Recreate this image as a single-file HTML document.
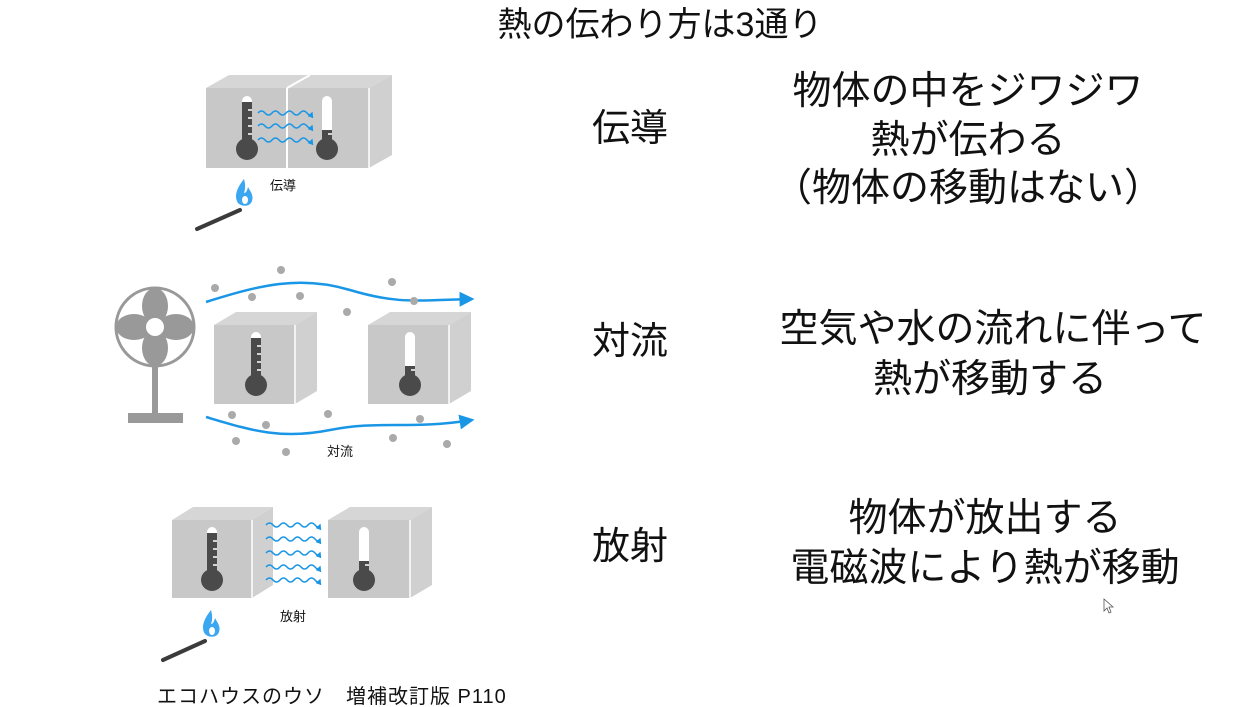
<!DOCTYPE html>
<html><head><meta charset="utf-8"><style>
html,body{margin:0;padding:0;background:#fff;}
svg{display:block;}
text{font-family:"Liberation Sans","Noto Sans CJK JP",sans-serif;fill:#111;}
</style></head><body>
<svg width="1256" height="707" viewBox="0 0 1256 707" xmlns="http://www.w3.org/2000/svg">
<defs>
<marker id="ah" markerWidth="6" markerHeight="6" refX="5" refY="3" orient="auto" markerUnits="strokeWidth"><path d="M0,0 L6,3 L0,6 z" fill="#1a96e6"/></marker>
<marker id="ah2" markerWidth="4" markerHeight="4" refX="3" refY="2" orient="auto" markerUnits="strokeWidth"><path d="M0,0 L4,2 L0,4 z" fill="#1a96e6"/></marker>
<g id="thH">
<rect x="-5" y="0" width="10" height="50" rx="5" fill="#fff"/>
<rect x="-5" y="6" width="10" height="46" fill="#4a4a4a"/>
<circle cx="0" cy="53" r="11" fill="#4a4a4a"/>
<path d="M1,14h4M1,22h4M1,30h4M1,38h4" stroke="#fff" stroke-width="1.5"/>
</g>
<g id="thC">
<rect x="-5" y="0" width="10" height="50" rx="5" fill="#fff"/>
<rect x="-5" y="34" width="10" height="18" fill="#4a4a4a"/>
<circle cx="0" cy="53" r="11" fill="#4a4a4a"/>
<path d="M1,38h4" stroke="#fff" stroke-width="1.5"/>
</g>
<path id="wv" d="M0,0 q3.5,-4 7,0 t7,0 t7,0 t7,0 t7,0 t7,0 t7,0 t5,0" fill="none" stroke="#1a96e6" stroke-width="1.5" marker-end="url(#ah2)"/>
<g id="flame">
<path d="M0,-18 C-8,-8 -10,0 -6,6 C-2,10 6,10 8,4 C10,-2 6,-6 4,-10 C3,-6 2,-4 0,-4 C2,-10 1,-14 0,-18z" fill="#3aa7f0"/>
<ellipse cx="1" cy="3" rx="3" ry="4" fill="#fff"/>
</g>
</defs>

<text x="660" y="36" font-size="34" text-anchor="middle">熱の伝わり方は3通り</text>

<!-- Conduction -->
<polygon points="206,88 369,88 392,75 229,75" fill="#d6d6d6"/>
<polygon points="369,88 392,75 392,155 369,168" fill="#d0d0d0"/>
<rect x="206" y="88" width="163" height="80" fill="#c8c8c8"/>
<line x1="287" y1="88" x2="287" y2="168" stroke="#fff" stroke-width="2"/>
<line x1="287" y1="88" x2="310" y2="75" stroke="#fff" stroke-width="2"/>
<line x1="369" y1="88" x2="369" y2="168" stroke="#fff" stroke-width="1.5"/>
<use href="#thH" x="247" y="96"/>
<use href="#thC" x="327" y="96"/>
<use href="#wv" x="258" y="113"/>
<use href="#wv" x="258" y="126"/>
<use href="#wv" x="258" y="140"/>
<line x1="197" y1="229" x2="240" y2="210" stroke="#3b3b3b" stroke-width="4" stroke-linecap="round"/>
<use href="#flame" x="244" y="197"/>
<text x="270" y="190" font-size="13">伝導</text>

<!-- Convection -->
<circle cx="155" cy="327" r="39" fill="none" stroke="#999" stroke-width="3"/>
<g fill="#999">
<ellipse cx="155" cy="306" rx="13" ry="18"/>
<ellipse cx="155" cy="348" rx="13" ry="18"/>
<ellipse cx="134" cy="327" rx="18" ry="13"/>
<ellipse cx="176" cy="327" rx="18" ry="13"/>
</g>
<circle cx="155" cy="327" r="9" fill="#fff"/>
<rect x="152" y="367" width="6" height="48" fill="#999"/>
<rect x="128" y="413" width="55" height="10" fill="#999"/>
<g>
<polygon points="214,325 295,325 317,312 236,312" fill="#d6d6d6"/>
<polygon points="295,325 317,312 317,391 295,404" fill="#d0d0d0"/>
<rect x="214" y="325" width="81" height="79" fill="#c8c8c8"/>
<line x1="295" y1="325" x2="295" y2="404" stroke="#fff" stroke-width="1.5"/>
<polygon points="368,325 449,325 471,312 390,312" fill="#d6d6d6"/>
<polygon points="449,325 471,312 471,391 449,404" fill="#d0d0d0"/>
<rect x="368" y="325" width="81" height="79" fill="#c8c8c8"/>
<line x1="449" y1="325" x2="449" y2="404" stroke="#fff" stroke-width="1.5"/>
</g>
<use href="#thH" x="256" y="332"/>
<use href="#thC" x="410" y="332"/>
<path d="M206,302 C260,285 300,275 350,290 C400,305 420,300 472,299" fill="none" stroke="#1a96e6" stroke-width="2.5" marker-end="url(#ah)"/>
<path d="M206,417 C250,430 280,440 330,430 C380,420 410,430 472,420" fill="none" stroke="#1a96e6" stroke-width="2.5" marker-end="url(#ah)"/>
<g fill="#aaa">
<circle cx="281" cy="270" r="4"/><circle cx="215" cy="288" r="4"/><circle cx="252" cy="297" r="4"/>
<circle cx="300" cy="296" r="4"/><circle cx="392" cy="282" r="4"/><circle cx="414" cy="301" r="4"/>
<circle cx="347" cy="312" r="4"/>
<circle cx="232" cy="415" r="4"/><circle cx="266" cy="425" r="4"/><circle cx="328" cy="414" r="4"/>
<circle cx="420" cy="419" r="4"/><circle cx="236" cy="441" r="4"/><circle cx="286" cy="452" r="4"/>
<circle cx="393" cy="438" r="4"/><circle cx="447" cy="444" r="4"/>
</g>
<text x="327" y="456" font-size="13">対流</text>

<!-- Radiation -->
<polygon points="172,520 252,520 273,507 193,507" fill="#d6d6d6"/>
<polygon points="252,520 273,507 273,585 252,598" fill="#d0d0d0"/>
<rect x="172" y="520" width="80" height="78" fill="#c8c8c8"/>
<line x1="252" y1="520" x2="252" y2="598" stroke="#fff" stroke-width="1.5"/>
<polygon points="328,520 410,520 432,507 350,507" fill="#d6d6d6"/>
<polygon points="410,520 432,507 432,585 410,598" fill="#d0d0d0"/>
<rect x="328" y="520" width="82" height="78" fill="#c8c8c8"/>
<line x1="410" y1="520" x2="410" y2="598" stroke="#fff" stroke-width="1.5"/>
<use href="#thH" x="212" y="527"/>
<use href="#thC" x="364" y="527"/>
<use href="#wv" x="266" y="525"/>
<use href="#wv" x="266" y="539"/>
<use href="#wv" x="266" y="553"/>
<use href="#wv" x="266" y="567"/>
<use href="#wv" x="266" y="580"/>
<line x1="163" y1="660" x2="205" y2="641" stroke="#3b3b3b" stroke-width="4" stroke-linecap="round"/>
<use href="#flame" x="211" y="628"/>
<text x="280" y="621" font-size="13">放射</text>

<!-- Right side text -->
<text x="592" y="141" font-size="38">伝導</text>
<text x="592" y="354" font-size="38">対流</text>
<text x="592" y="559" font-size="38">放射</text>
<g font-size="39" text-anchor="middle">
<text x="968" y="104">物体の中をジワジワ</text>
<text x="968" y="153">熱が伝わる</text>
<text x="968" y="201">（物体の移動はない）</text>
<text x="993" y="342">空気や水の流れに伴って</text>
<text x="990" y="392">熱が移動する</text>
<text x="985" y="531">物体が放出する</text>
<text x="985" y="581">電磁波により熱が移動</text>
</g>
<path d="M1104,599 l0,12 l3,-3 l2,5 l2,-1 l-2,-5 l4,0 z" fill="#fff" stroke="#555" stroke-width="0.8"/>
<text x="157" y="703" font-size="20" letter-spacing="1">エコハウスのウソ　増補改訂版 P110</text>
</svg>
</body></html>
